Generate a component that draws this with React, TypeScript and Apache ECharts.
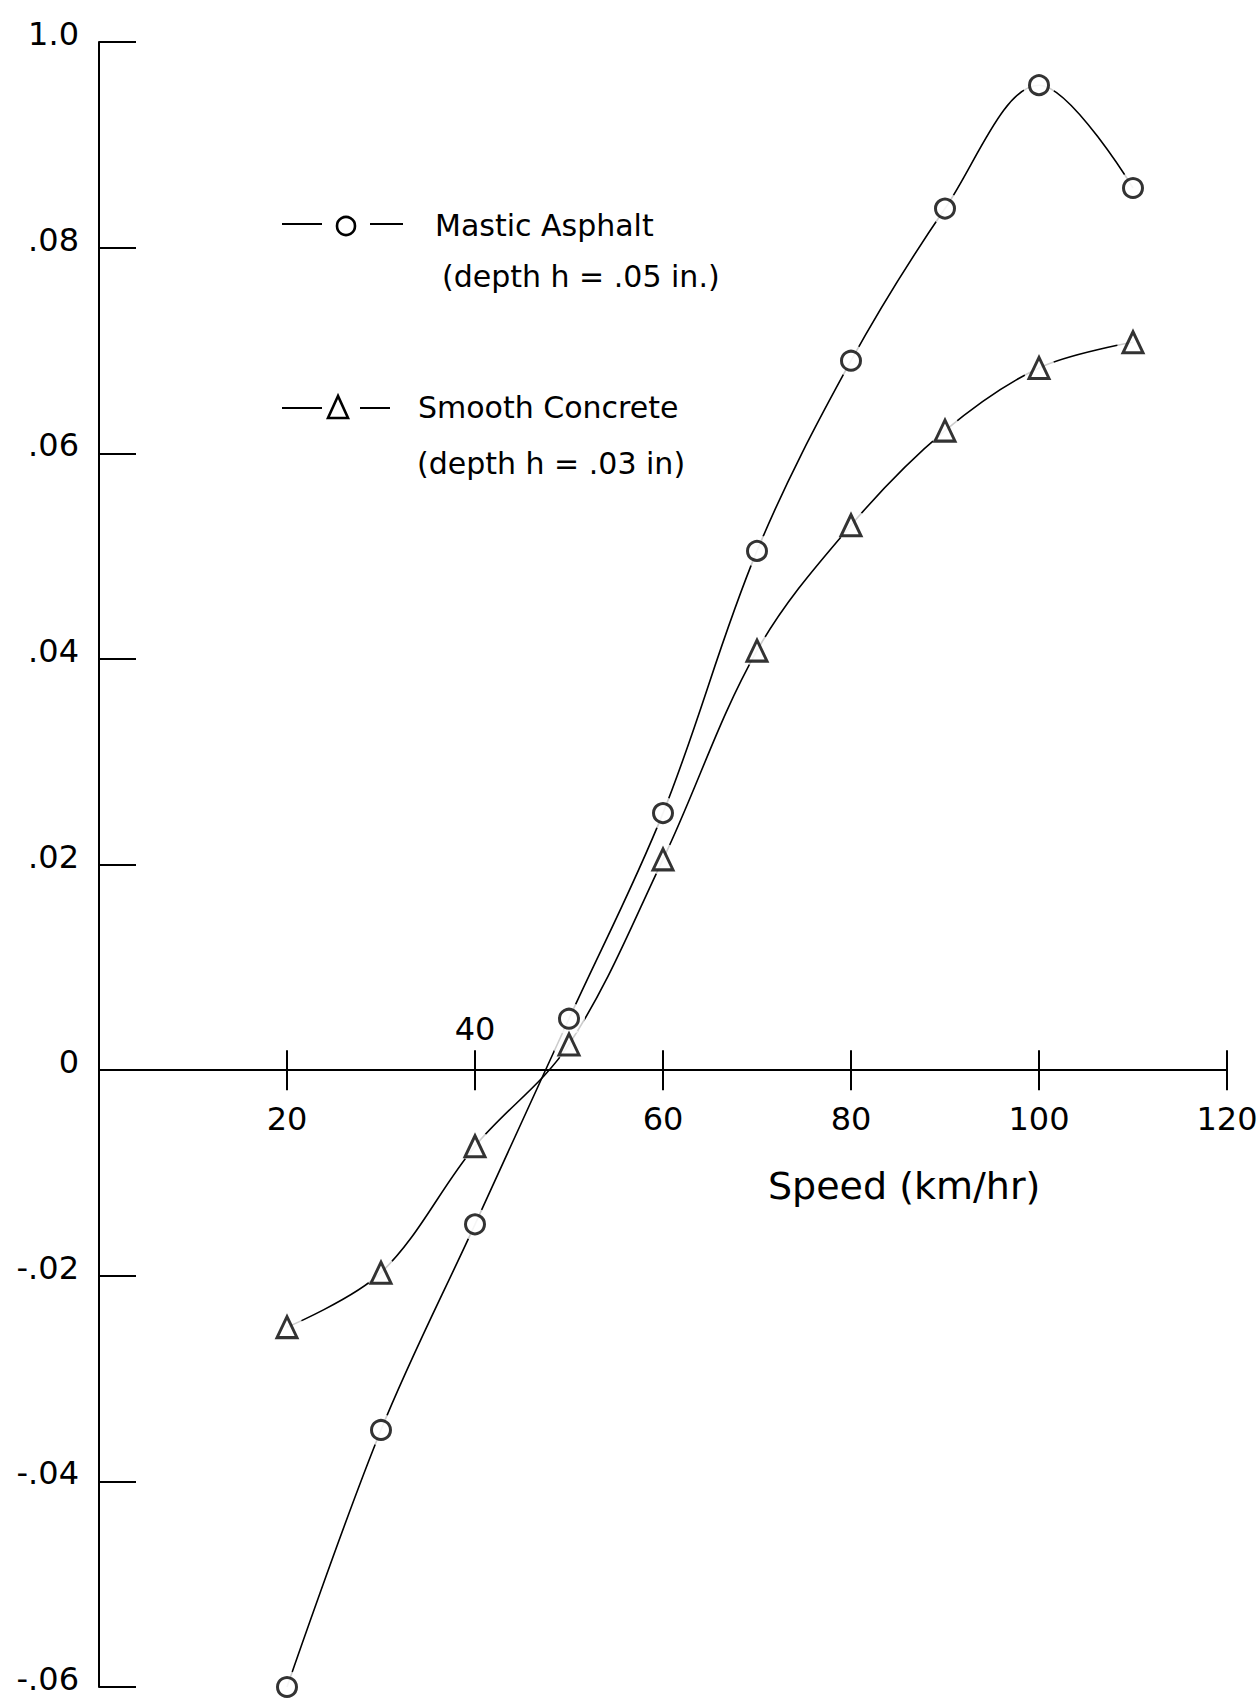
import { useEffect, useRef } from "react";
import * as echarts from "echarts";

// Speed (km/hr) at which each pair of readings was taken
const speeds = [20, 30, 40, 50, 60, 70, 80, 90, 100, 110];
// Mastic asphalt, depth h = .05 in.
const masticAsphalt = [-0.06, -0.035, -0.015, 0.005, 0.025, 0.0505, 0.069, 0.0838, 0.0958, 0.0858];
// Smooth concrete, depth h = .03 in.
const smoothConcrete = [-0.025, -0.0197, -0.0074, 0.0025, 0.0205, 0.0408, 0.053, 0.0622, 0.0683, 0.0708];

const yMin = -0.06;
const yMax = 0.1;
const yStep = 0.02;
const yTickLabels = ["-.06", "-.04", "-.02", "0", ".02", ".04", ".06", ".08", "1.0"];

// speed ticks on the zero line; the "40" label sits above the line
const xTickValues = [20, 40, 60, 80, 100, 120];
const xTickLabels = ["20", "40", "60", "80", "100", "120"];
const xLabelAbove = [false, true, false, false, false, false];

const INK = "#000";
const FONT = "'DejaVu Sans', sans-serif";

export default function App() {
  const ref = useRef<HTMLDivElement>(null);

  useEffect(() => {
    document.body.style.margin = "0";
    const chart = echarts.init(ref.current!, null, { renderer: "svg" });

    const mastic = speeds.map((s, i) => [s, masticAsphalt[i]]);
    const concrete = speeds.map((s, i) => [s, smoothConcrete[i]]);

    chart.setOption({
      animation: false,
      backgroundColor: "#fff",
      grid: { left: 99, right: 32, top: 42, bottom: 13, containLabel: false },
      xAxis: {
        type: "value",
        min: 0,
        max: 120,
        interval: 20,
        axisLine: { show: true, onZero: true, lineStyle: { color: INK, width: 2 } },
        axisTick: { show: false },
        axisLabel: { show: false },
        splitLine: { show: false },
      },
      yAxis: {
        type: "value",
        min: yMin,
        max: yMax,
        interval: yStep,
        axisLine: { show: true, lineStyle: { color: INK, width: 2 } },
        axisTick: { show: true, inside: true, length: 37, lineStyle: { color: INK, width: 2 } },
        axisLabel: {
          margin: 20,
          color: INK,
          fontFamily: FONT,
          fontSize: 32,
          verticalAlign: "bottom",
          lineHeight: 16,
          formatter: (v: number) => yTickLabels[Math.round((v - yMin) / yStep)] ?? "",
        },
        splitLine: { show: false },
      },
      series: [
        {
          name: "Mastic Asphalt",
          type: "line",
          data: mastic,
          smooth: 0.35,
          showSymbol: false,
          lineStyle: { color: INK, width: 1.6 },
          z: 2,
        },
        {
          name: "Smooth Concrete",
          type: "line",
          data: concrete,
          smooth: 0.35,
          showSymbol: false,
          lineStyle: { color: INK, width: 1.6 },
          z: 2,
        },
        // white halos leave a small gap between each curve and its markers
        {
          type: "scatter",
          data: mastic,
          symbol: "circle",
          symbolSize: 32,
          itemStyle: { color: "#fff" },
          z: 3,
          silent: true,
        },
        {
          type: "scatter",
          data: concrete,
          symbol: "circle",
          symbolSize: 32,
          itemStyle: { color: "#fff" },
          z: 3,
          silent: true,
        },
        {
          type: "scatter",
          data: mastic,
          symbol: "circle",
          symbolSize: 19,
          itemStyle: { color: "#fff", borderColor: INK, borderWidth: 3 },
          z: 4,
        },
        {
          type: "scatter",
          data: concrete,
          symbol: "triangle",
          symbolSize: [20, 21],
          itemStyle: { color: "#fff", borderColor: INK, borderWidth: 3 },
          z: 4,
        },
      ],
    });

    // ticks crossing the zero line and their labels, placed through the x scale
    const tickGraphics: any[] = [];
    xTickValues.forEach((v, i) => {
      const [px, py] = chart.convertToPixel({ xAxisIndex: 0, yAxisIndex: 0 }, [v, 0]) as number[];
      tickGraphics.push({
        type: "line",
        shape: { x1: px, y1: py - 20, x2: px, y2: py + 20 },
        style: { stroke: INK, lineWidth: 2 },
      });
      const above = xLabelAbove[i];
      tickGraphics.push({
        type: "text",
        x: px,
        y: above ? py - 25 : py + 33,
        style: {
          text: xTickLabels[i],
          fontSize: 32,
          fontFamily: FONT,
          fill: INK,
          align: "center",
          verticalAlign: above ? "bottom" : "top",
        },
      });
    });

    chart.setOption({
      graphic: [
        ...tickGraphics,
        // legend: mastic asphalt
        { type: "line", shape: { x1: 282, y1: 224, x2: 322, y2: 224 }, style: { stroke: INK, lineWidth: 2 } },
        { type: "circle", shape: { cx: 346, cy: 226, r: 9 }, style: { fill: "#fff", stroke: INK, lineWidth: 2.6 } },
        { type: "line", shape: { x1: 370, y1: 224, x2: 403, y2: 224 }, style: { stroke: INK, lineWidth: 2 } },
        {
          type: "text",
          x: 435,
          y: 225,
          style: { text: "Mastic Asphalt", fontSize: 30, fontFamily: FONT, fill: INK, verticalAlign: "middle" },
        },
        {
          type: "text",
          x: 442,
          y: 276,
          style: { text: "(depth h = .05 in.)", fontSize: 30, fontFamily: FONT, fill: INK, verticalAlign: "middle" },
        },
        // legend: smooth concrete
        { type: "line", shape: { x1: 282, y1: 408, x2: 322, y2: 408 }, style: { stroke: INK, lineWidth: 2 } },
        {
          type: "polygon",
          shape: { points: [[338, 396], [328, 418], [348, 418]] },
          style: { fill: "#fff", stroke: INK, lineWidth: 2.6 },
        },
        { type: "line", shape: { x1: 360, y1: 408, x2: 390, y2: 408 }, style: { stroke: INK, lineWidth: 2 } },
        {
          type: "text",
          x: 418,
          y: 407,
          style: { text: "Smooth Concrete", fontSize: 30, fontFamily: FONT, fill: INK, verticalAlign: "middle" },
        },
        {
          type: "text",
          x: 417,
          y: 463,
          style: { text: "(depth h = .03 in)", fontSize: 30, fontFamily: FONT, fill: INK, verticalAlign: "middle" },
        },
        // x-axis title
        {
          type: "text",
          x: 768,
          y: 1186,
          style: { text: "Speed (km/hr)", fontSize: 38, fontFamily: FONT, fill: INK, verticalAlign: "middle" },
        },
      ],
    });

    return () => chart.dispose();
  }, []);

  return <div ref={ref} style={{ width: 1259, height: 1700 }} />;
}
